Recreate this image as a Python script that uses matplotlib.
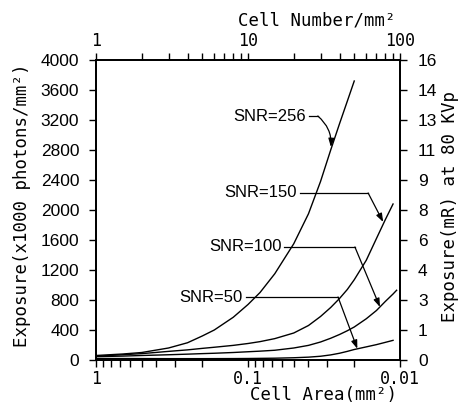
import matplotlib
matplotlib.use("Agg")
import matplotlib.pyplot as plt
from matplotlib.ticker import LogLocator, NullFormatter, FixedLocator

# Exposure (x1000 photons/mm^2) needed for each SNR, against cell number per mm^2
n_256 = [1, 1.5, 2, 3, 4, 5, 6, 8, 10, 12, 15, 20, 25, 30, 35, 40, 45, 50]
exp_256 = [60, 80, 100, 160, 230, 320, 400, 570, 740, 900, 1150, 1550, 1950,
           2380, 2800, 3150, 3450, 3720]

n_150 = [1, 1.5, 2, 3, 4, 5, 6, 8, 10, 12, 15, 20, 25, 30, 35, 40, 45, 50,
         60, 70, 80, 90]
exp_150 = [50, 70, 85, 115, 135, 155, 170, 195, 220, 245, 285, 360, 460, 580,
           700, 820, 940, 1070, 1330, 1620, 1870, 2080]

n_100 = [1, 1.5, 2, 3, 4, 5, 6, 8, 10, 12, 15, 20, 25, 30, 35, 40, 45, 50,
         60, 70, 80, 90, 95]
exp_100 = [45, 52, 60, 70, 78, 85, 90, 100, 110, 118, 130, 160, 195, 240, 290,
           340, 390, 440, 550, 660, 780, 880, 930]

n_50 = [1, 2, 3, 5, 8, 10, 15, 20, 25, 30, 35, 40, 45, 50, 60, 70, 80, 90]
exp_50 = [20, 19, 18, 18, 19, 20, 24, 30, 38, 50, 68, 90, 115, 140, 175, 205,
          235, 262]

left_ticks = [0, 400, 800, 1200, 1600, 2000, 2400, 2800, 3200, 3600, 4000]
right_labels = ["0", "1", "3", "4", "6", "8", "9", "11", "13", "14", "16"]

SANS = "Liberation Sans"
MONO = "DejaVu Sans Mono"

fig = plt.figure(figsize=(4.64, 4.11), dpi=100)
ax = fig.add_axes([96 / 464, 1 - 360 / 411, 304 / 464, 300 / 411])

# bottom axis: cell area, running from 1 down to 0.01
ax.set_xscale("log")
ax.set_xlim(1, 0.01)
ax.set_ylim(0, 4000)
ax.xaxis.set_major_locator(FixedLocator([1, 0.1, 0.01]))
ax.set_xticklabels(["1", "0.1", "0.01"], fontfamily=MONO, fontsize=12)
ax.xaxis.set_minor_locator(LogLocator(base=10, subs=range(2, 10)))
ax.xaxis.set_minor_formatter(NullFormatter())
ax.set_yticks(left_ticks)
ax.set_yticklabels([str(v) for v in left_ticks], fontfamily=SANS,
                   fontsize=12.5)

# top axis: cell number per mm^2 (curves are drawn here)
ax_top = ax.twiny()
ax_top.set_xscale("log")
ax_top.set_xlim(1, 100)
ax_top.xaxis.set_major_locator(FixedLocator([1, 10, 100]))
ax_top.set_xticklabels(["1", "10", "100"], fontfamily=MONO, fontsize=12)
ax_top.xaxis.set_minor_locator(LogLocator(base=10, subs=range(2, 10)))
ax_top.xaxis.set_minor_formatter(NullFormatter())

# right axis: same positions, labelled in mR
ax_r = ax.twinx()
ax_r.set_ylim(0, 4000)
ax_r.set_yticks(left_ticks)
ax_r.set_yticklabels(right_labels, fontfamily=SANS, fontsize=12.5)

for a in (ax, ax_top, ax_r):
    for s in a.spines.values():
        s.set_linewidth(1.1)
ax.tick_params(axis="x", which="both", direction="out", length=5, width=1,
               pad=2)
ax.tick_params(axis="y", direction="out", length=5, width=1, pad=7)
ax_top.tick_params(axis="x", which="both", direction="out", length=5, width=1,
                   pad=2)
ax_r.tick_params(axis="y", direction="out", length=5, width=1, pad=8)

for n, e in [(n_256, exp_256), (n_150, exp_150), (n_100, exp_100),
             (n_50, exp_50)]:
    ax_top.plot(n, e, color="black", linewidth=1.0)

arrow = dict(arrowstyle="-|>,head_length=0.5,head_width=0.18", color="black",
             linewidth=0.9, mutation_scale=10, shrinkA=0, shrinkB=0)


def leader(label, text_xy, corner, tip, rad=0.0):
    ax_top.text(text_xy[0], text_xy[1], label, ha="right", va="center",
                fontfamily=SANS, fontsize=12)
    start = (text_xy[0] * 1.04, text_xy[1])
    ax_top.plot([start[0], corner[0]], [start[1], corner[1]],
                color="black", linewidth=0.9)
    ax_top.annotate("", xy=tip, xytext=corner,
                    arrowprops=dict(arrow, connectionstyle=f"arc3,rad={rad}"))


leader("SNR=256", (24.1, 3253), (28.8, 3253), (35.1, 2840), rad=-0.25)
leader("SNR=150", (21.0, 2227), (61.7, 2227), (77.5, 1840))
leader("SNR=100", (16.7, 1507), (50.5, 1507), (73.8, 707))
leader("SNR=50", (9.27, 840), (39.1, 840), (52.4, 150))

ax.set_xlabel("Cell Area(mm²)", fontfamily=MONO, fontsize=12.5, loc="right")
ax.xaxis.set_label_coords(0.99, -0.088)
ax_top.set_xlabel("Cell Number/mm²", fontfamily=MONO, fontsize=12.5,
                  loc="right")
ax_top.xaxis.set_label_coords(0.985, 1.115)
ax.set_ylabel("Exposure(x1000 photons/mm²)", fontfamily=MONO, fontsize=12.5)
ax.yaxis.set_label_coords(-0.215, 0.515)
ax_r.set_ylabel("Exposure(mR) at 80 KVp", fontfamily=MONO, fontsize=12.5,
                rotation=90)
ax_r.yaxis.set_label_coords(1.135, 0.51)

fig.savefig("out.png", dpi=100)
